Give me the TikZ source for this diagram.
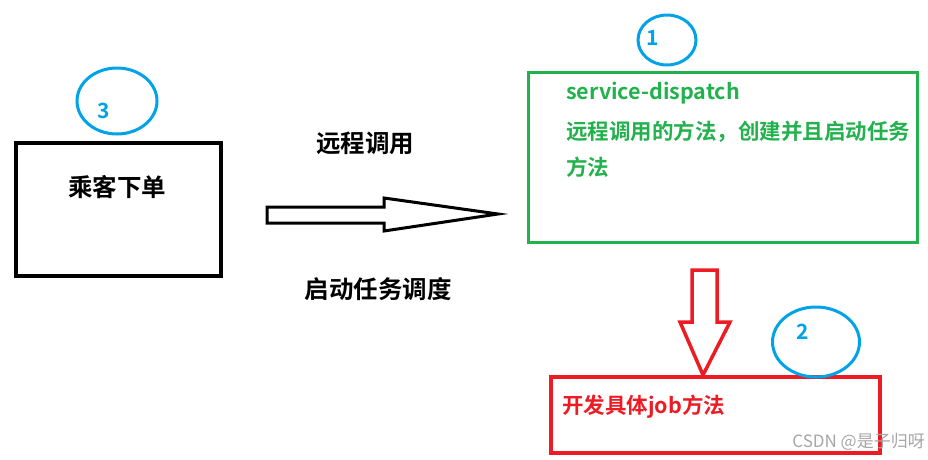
\documentclass[tikz,border=0pt]{standalone}
\usepackage{fontspec}
\setmainfont{Noto Sans CJK SC}[BoldFont={* Bold}]
\usetikzlibrary{shapes.geometric}
\definecolor{mscyan}{HTML}{00A2E8}
\definecolor{msgreen}{HTML}{22B14C}
\definecolor{msred}{HTML}{ED1C24}
\tikzset{
  numcirc/.style={draw=mscyan, line width=3pt, ellipse, inner sep=0pt},
  numtext/.style={text=mscyan, font=\fontsize{21}{23}\selectfont\bfseries, inner sep=0pt},
  bigtxt/.style={font=\fontsize{24.5}{27}\selectfont\bfseries, inner sep=0pt},
  gtxt/.style={text=msgreen, font=\fontsize{21.5}{24}\selectfont\bfseries, inner sep=0pt, anchor=west},
  rtxt/.style={text=msred, font=\fontsize{21.5}{24}\selectfont\bfseries, inner sep=0pt, anchor=west},
}
\begin{document}
\begin{tikzpicture}[x=1pt,y=-1pt]
\useasboundingbox (0,0) rectangle (928,459);
% boxes
\node[draw=black, line width=4pt, minimum width=205pt, minimum height=133pt, inner sep=0pt] (order) at (118.5,209.5) {};
\node[draw=msgreen, line width=3pt, minimum width=389pt, minimum height=170pt, inner sep=0pt] (svc) at (723,157) {};
\node[draw=msred, line width=4pt, minimum width=329pt, minimum height=76pt, inner sep=0pt] (job) at (715,415) {};
% circles
\node[numcirc, minimum width=80pt, minimum height=66pt] (c3) at (117,101) {};
\node[numtext] (n3) at (104,111) {3};
\node[numcirc, minimum width=58pt, minimum height=50pt] (c1) at (667,40) {};
\node[numtext] (n1) at (653,38) {1};
\node[numcirc, minimum width=87pt, minimum height=70pt] (c2) at (816,342) {};
\node[numtext] (n2) at (803,332) {2};
% texts
\node[bigtxt] (t1) at (117,187) {乘客下单};
\node[bigtxt] (t2) at (365,143) {远程调用};
\node[bigtxt] (t3) at (378,289) {启动任务调度};
\node[gtxt] (g1) at (566,93) {service-dispatch};
\node[gtxt] (g2) at (566,132) {远程调用的方法，创建并且启动任务};
\node[gtxt] (g3) at (566,167) {方法};
\node[rtxt] (r1) at (562,407) {开发具体job方法};
\node[text=black!35, font=\fontsize{17}{19}\selectfont, inner sep=0pt, anchor=east] (wm) at (925,442) {CSDN @是子归呀};
% hollow arrows
\draw[line width=3pt, line join=miter] (267,207) -- (384,207) -- (384,198) -- (498,214) -- (384,231) -- (384,223) -- (267,223) -- cycle;
\draw[msred, line width=3.5pt, line join=miter] (692,270) -- (717,270) -- (717,322) -- (730,322) -- (703,375) -- (680,322) -- (692,322) -- cycle;
\end{tikzpicture}
\end{document}
